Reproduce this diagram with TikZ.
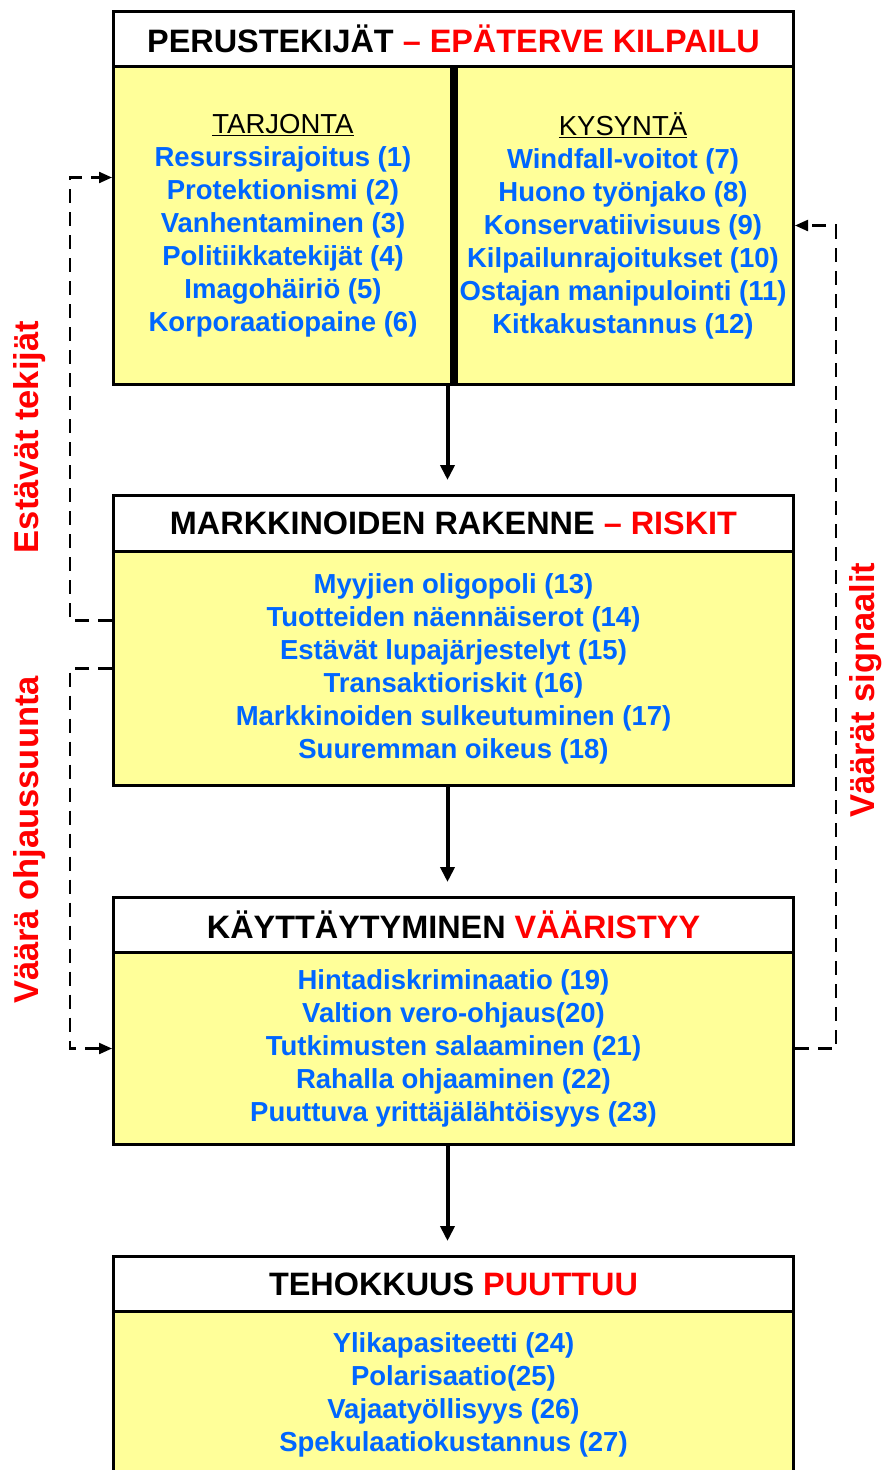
\documentclass[tikz,border=0pt]{standalone}
\usepackage{fontspec}
\setmainfont{Liberation Sans}
\usetikzlibrary{arrows.meta}
\definecolor{boxyellow}{RGB}{255,255,153}
\definecolor{itemblue}{RGB}{0,102,255}
\definecolor{hdred}{RGB}{255,0,0}

\begin{document}
\begin{tikzpicture}[x=1pt, y=-1pt,
  hdbox/.style={draw=black, line width=3pt, fill=white, minimum width=680pt,
    minimum height=55pt, inner sep=0pt, anchor=north west,
    font=\fontsize{32.4}{34}\selectfont\bfseries},
  bodybox/.style={draw=black, line width=3pt, fill=boxyellow, inner sep=0pt,
    anchor=north west, align=center, text=itemblue,
    font=\fontsize{27.5}{33}\selectfont\bfseries},
  flow/.style={line width=4pt, -{Triangle[length=15pt,width=14pt]}, shorten >=14pt},
  loopline/.style={line width=2.2pt, dash pattern=on 14pt off 9pt,
    -{Triangle[length=13pt,width=11pt]}},
  sidelabel/.style={text=hdred, rotate=90, font=\fontsize{34.5}{36}\selectfont\bfseries}
]
  \useasboundingbox (0,0) rectangle (887,1470);
  \newcommand\colhd[1]{{\color{black}\mdseries\underline{#1}}}

  % perustekijat
  \node[hdbox] (perus) at (112,10) {PERUSTEKIJÄT {\color{hdred}– EPÄTERVE KILPAILU}};
  \node[bodybox, minimum width=339pt, minimum height=318pt] (tarj) at (112,65)
    {\colhd{TARJONTA}\\ Resurssirajoitus (1)\\ Protektionismi (2)\\ Vanhentaminen (3)\\
     Politiikkatekijät (4)\\ Imagohäiriö (5)\\ Korporaatiopaine (6)};
  \node[bodybox, minimum width=341pt, minimum height=318pt] (kys) at (451,65)
    {\colhd{KYSYNTÄ}\\ Windfall-voitot (7)\\ Huono työnjako (8)\\ Konservatiivisuus (9)\\
     Kilpailunrajoitukset (10)\\ Ostajan manipulointi (11)\\ Kitkakustannus (12)};
  \draw[line width=8pt] (tarj.north east) -- (tarj.south east);

  % markkinoiden rakenne
  \node[hdbox, minimum height=56pt] (rak) at (112,494) {MARKKINOIDEN RAKENNE {\color{hdred}– RISKIT}};
  \node[bodybox, minimum width=680pt, minimum height=234pt] (rakb) at (112,550)
    {Myyjien oligopoli (13)\\ Tuotteiden näennäiserot (14)\\ Estävät lupajärjestelyt (15)\\
     Transaktioriskit (16)\\ Markkinoiden sulkeutuminen (17)\\ Suuremman oikeus (18)};

  % kayttaytyminen
  \node[hdbox] (kayt) at (112,896) {KÄYTTÄYTYMINEN {\color{hdred}VÄÄRISTYY}};
  \node[bodybox, minimum width=680pt, minimum height=192pt] (kaytb) at (112,951)
    {Hintadiskriminaatio (19)\\ Valtion vero-ohjaus(20)\\ Tutkimusten salaaminen (21)\\
     Rahalla ohjaaminen (22)\\ Puuttuva yrittäjälähtöisyys (23)};

  % tehokkuus
  \node[hdbox] (teho) at (112,1255) {TEHOKKUUS {\color{hdred}PUUTTUU}};
  \node[bodybox, minimum width=680pt, minimum height=166pt] (tehob) at (112,1310)
    {Ylikapasiteetti (24)\\ Polarisaatio(25)\\ Vajaatyöllisyys (26)\\ Spekulaatiokustannus (27)};

  \draw[flow] ([xshift=-6pt]rak.north |- tarj.south) -- ([xshift=-6pt]rak.north);
  \draw[flow] ([xshift=-6pt]rakb.south) -- ([xshift=-6pt]kayt.north);
  \draw[flow] ([xshift=-6pt]kaytb.south) -- ([xshift=-6pt]teho.north);

  % takaisinkytkennat
  \draw[loopline] ([yshift=48pt]rakb.west) -- ++(-42,0) |- ([yshift=48pt]tarj.west);
  \draw[loopline] (rakb.west) -- ++(-42,0) |- (kaytb.west);
  \draw[loopline] (kaytb.east) -- ++(41,0) |- (kys.east);

  \node[sidelabel] (estlab) at (30,437) {Estävät tekijät};
  \node[sidelabel] (ohjlab) at (30,840) {Väärä ohjaussuunta};
  \node[sidelabel] (siglab) at (866,690) {Väärät signaalit};
\end{tikzpicture}
\end{document}
